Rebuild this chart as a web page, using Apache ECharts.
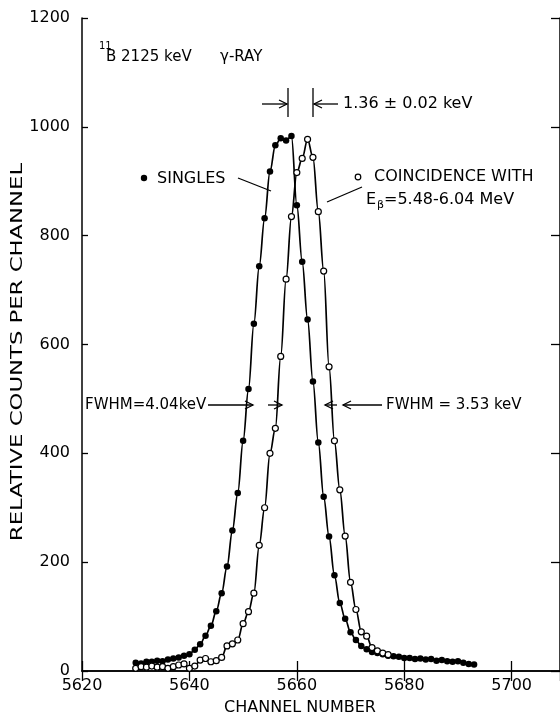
<!DOCTYPE html>
<html>
<head>
<meta charset="utf-8">
<script src="https://cdn.jsdelivr.net/npm/echarts@6/dist/echarts.min.js"></script>
<style>
  html, body { margin: 0; padding: 0; background: #fff; }
  #main { width: 560px; height: 717px; }
</style>
</head>
<body>
<div id="main"></div>
<script>
// channel numbers and counts
var singlesChannels = [];
for (var c = 5630; c <= 5693; c++) singlesChannels.push(c);
var singlesCounts = [
  15, 14, 17, 17, 19, 18, 21, 23, 25, 28,
  31, 39, 49, 65, 83, 110, 143, 192, 258, 327,
  423, 518, 638, 744, 832, 918, 966, 979, 975, 983,
  856, 752, 646, 532, 420, 320, 247, 176, 125, 96,
  71, 57, 46, 40, 35, 33, 31, 28, 27, 26,
  24, 24, 22, 23, 21, 22, 19, 20, 18, 17,
  18, 15, 13, 12
];

var coincChannels = [];
for (var c = 5630; c <= 5677; c++) coincChannels.push(c);
var coincCounts = [
  5, 8, 7, 9, 7, 8, 5, 8, 11, 13,
  5, 9, 20, 23, 17, 19, 25, 46, 50, 57,
  87, 109, 143, 231, 300, 400, 446, 578, 720, 835,
  916, 942, 977, 944, 844, 735, 559, 423, 333, 248,
  163, 113, 72, 64, 43, 37, 33, 30
];

var xTicks = [5620, 5640, 5660, 5680, 5700];
var yTicks = [0, 200, 400, 600, 800, 1000, 1200];

var FONT = "'DejaVu Sans', sans-serif";

function pairs(xs, ys) {
  return xs.map(function (x, i) { return [x, ys[i]]; });
}

function arrow(x1, y, x2) {
  var d = x2 > x1 ? 1 : -1;
  return [
    { type: "line", shape: { x1: x1, y1: y, x2: x2, y2: y }, style: { stroke: "#000", lineWidth: 1.3 } },
    { type: "polyline", shape: { points: [[x2 - d * 8, y - 4], [x2, y], [x2 - d * 8, y + 4]] }, style: { stroke: "#000", fill: null, lineWidth: 1.3 } }
  ];
}

function txt(x, y, s, size, align) {
  return {
    type: "text", x: x, y: y,
    style: { text: s, font: size + "px " + FONT, fill: "#000", textAlign: align || "left", textVerticalAlign: "middle" }
  };
}

var chartDom = document.getElementById("main");
var myChart = echarts.init(chartDom);

var axisLineStyle = { color: "#000", width: 1.5 };
var labelStyle = { color: "#000", fontSize: 16, fontFamily: FONT };

var graphics = [
  txt(99, 46, "11", 10),
  txt(106, 57, "B 2125 keV", 15),
  txt(220, 57, "γ-RAY", 15),
  { type: "line", shape: { x1: 288, y1: 88, x2: 288, y2: 117 }, style: { stroke: "#000", lineWidth: 1.3 } },
  { type: "line", shape: { x1: 313, y1: 88, x2: 313, y2: 117 }, style: { stroke: "#000", lineWidth: 1.3 } },
  txt(343, 104, "1.36 ± 0.02 keV", 16),
  { type: "circle", shape: { cx: 144, cy: 178, r: 3.2 }, style: { fill: "#000" } },
  txt(157, 179, "SINGLES", 16),
  { type: "line", shape: { x1: 238, y1: 178, x2: 271, y2: 191 }, style: { stroke: "#000", lineWidth: 1.3 } },
  { type: "circle", shape: { cx: 358, cy: 177, r: 2.8 }, style: { fill: "#fff", stroke: "#000", lineWidth: 1.2 } },
  txt(374, 177, "COINCIDENCE WITH", 16),
  txt(366, 200, "E", 16),
  txt(377, 205, "β", 11),
  txt(384, 200, "=5.48-6.04 MeV", 16),
  { type: "line", shape: { x1: 362, y1: 187, x2: 327, y2: 202 }, style: { stroke: "#000", lineWidth: 1.3 } },
  txt(85, 405, "FWHM=4.04keV", 15),
  txt(386, 405, "FWHM = 3.53 keV", 15),
  {
    type: "text", x: 18, y: 352, rotation: Math.PI / 2, scaleX: 1.42,
    style: { text: "RELATIVE COUNTS PER CHANNEL", font: "16px " + FONT, fill: "#000", textAlign: "center", textVerticalAlign: "middle" }
  },
  txt(300, 708, "CHANNEL NUMBER", 16, "center")
]
  .concat(arrow(262, 104, 287))
  .concat(arrow(338, 104, 314))
  .concat(arrow(208, 405, 253))
  .concat(arrow(268, 405, 282))
  .concat(arrow(337, 405, 325))
  .concat(arrow(382, 405, 343));

var option = {
  animation: false,
  backgroundColor: "#fff",
  grid: { left: 82, top: 18, width: 484, height: 653 },
  xAxis: [
    {
      type: "value", position: "bottom",
      min: xTicks[0], max: 5709, interval: 20,
      axisLine: { lineStyle: axisLineStyle },
      axisTick: { inside: true, length: 10, lineStyle: { color: "#000", width: 1.3 } },
      axisLabel: {
        color: "#000", fontSize: 16, fontFamily: FONT, margin: 7, showMaxLabel: false,
        formatter: function (v) { return xTicks.indexOf(v) >= 0 ? String(v) : ""; }
      },
      splitLine: { show: false }
    },
    {
      type: "value", position: "top",
      min: xTicks[0], max: 5709, interval: 20,
      axisLine: { lineStyle: axisLineStyle },
      axisTick: { inside: true, length: 10, lineStyle: { color: "#000", width: 1.3 } },
      axisLabel: { show: false },
      splitLine: { show: false }
    }
  ],
  yAxis: [
    {
      type: "value", position: "left",
      min: yTicks[0], max: yTicks[yTicks.length - 1], interval: 200,
      axisLine: { show: true, lineStyle: axisLineStyle },
      axisTick: { show: true, inside: true, length: 6, lineStyle: { color: "#000", width: 1.3 } },
      axisLabel: Object.assign({ margin: 12, formatter: function (v) { return String(v); } }, labelStyle),
      splitLine: { show: false }
    },
    {
      type: "value", position: "right",
      min: yTicks[0], max: yTicks[yTicks.length - 1], interval: 200,
      axisLine: { show: true, lineStyle: axisLineStyle },
      axisTick: { show: true, inside: true, length: 9, lineStyle: { color: "#000", width: 1.3 } },
      axisLabel: { show: false },
      splitLine: { show: false }
    }
  ],
  series: [
    {
      name: "Singles",
      type: "line",
      data: pairs(singlesChannels, singlesCounts),
      smooth: 0.35,
      smoothMonotone: "x",
      symbol: "circle",
      symbolSize: 6.5,
      itemStyle: { color: "#000" },
      lineStyle: { color: "#000", width: 1.7 },
      z: 3
    },
    {
      name: "Coincidence",
      type: "line",
      data: pairs(coincChannels, coincCounts),
      smooth: 0.35,
      smoothMonotone: "x",
      symbol: "circle",
      symbolSize: 6,
      itemStyle: { color: "#fff", borderColor: "#000", borderWidth: 1.2 },
      lineStyle: { color: "#000", width: 1.7 },
      z: 4
    }
  ],
  graphic: graphics
};

option && myChart.setOption(option);
</script>
</body>
</html>
